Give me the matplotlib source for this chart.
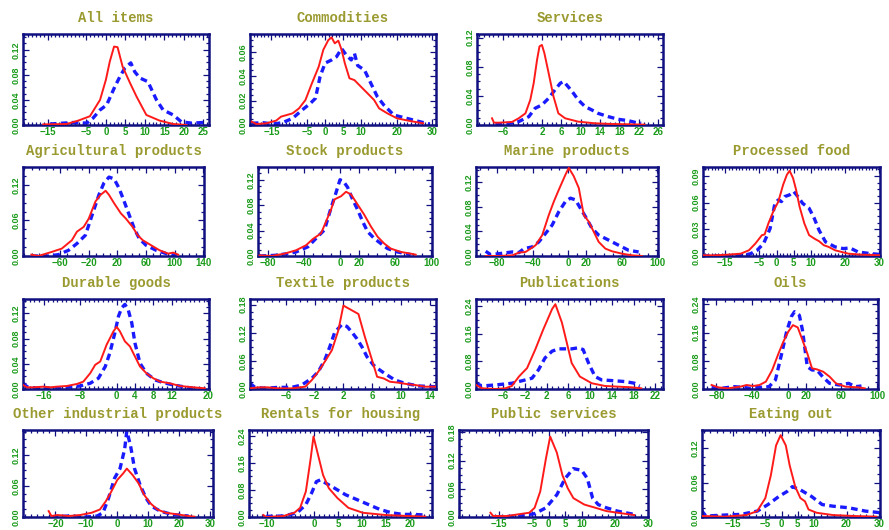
import matplotlib
matplotlib.use("Agg")
import matplotlib.pyplot as plt
from matplotlib.ticker import FixedLocator, MultipleLocator, FixedFormatter

# ---------------- data ----------------
titles = ["All items", "Commodities", "Services",
          "Agricultural products", "Stock products", "Marine products", "Processed food",
          "Durable goods", "Textile products", "Publications", "Oils",
          "Other industrial products", "Rentals for housing", "Public services", "Eating out"]

all_items_red_x = [-16.1, -10.1, -7.1, -4.1, -1.5, 0.0, 1.0, 2.1, 3.0, 4.3, 6.2, 7.9, 10.4, 13.8, 17.3, 20.7]
all_items_red_y = [0.001, 0.0016, 0.007, 0.014, 0.040, 0.072, 0.101, 0.125, 0.124, 0.093, 0.067, 0.045, 0.016, 0.007, 0.0016, 0.0]
all_items_blue_x = [-14.4, -8.4, -4.9, -3.3, -1.5, 0.2, 2.3, 3.6, 4.9, 6.4, 7.4, 8.7, 10.8, 13.0, 14.7, 17.3, 19.4, 22.0, 25.0]
all_items_blue_y = [0.0016, 0.004, 0.003, 0.011, 0.024, 0.032, 0.061, 0.077, 0.091, 0.099, 0.085, 0.075, 0.069, 0.040, 0.024, 0.016, 0.005, 0.003, 0.004]

commodities_red_x = [-20.5, -19.2, -16.4, -13.7, -12.3, -9.1, -7.3, -5.5, -3.7, -1.8, -0.5, 0.9, 1.8, 2.7, 3.7, 4.6, 5.5, 6.8, 8.2, 10.0, 11.9, 13.7, 15.1, 17.4, 20.1, 23.7, 27.4]
commodities_red_y = [0.0027, 0.0008, 0.0014, 0.0036, 0.0069, 0.0096, 0.0137, 0.0206, 0.0343, 0.048, 0.062, 0.070, 0.0722, 0.0673, 0.0695, 0.062, 0.051, 0.0385, 0.037, 0.0316, 0.026, 0.0206, 0.0137, 0.0096, 0.0055, 0.0033, 0.0014]
commodities_blue_x = [-20.5, -17.4, -14.6, -11.9, -9.1, -6.4, -4.1, -2.7, -1.4, 0.0, 1.8, 3.2, 4.6, 5.9, 7.3, 8.2, 9.1, 11.0, 12.8, 14.6, 16.4, 19.2, 22.8, 26.5, 29.2]
commodities_blue_y = [0.0014, 0.0019, 0.0008, 0.0019, 0.0055, 0.0124, 0.0179, 0.022, 0.040, 0.051, 0.0536, 0.0563, 0.063, 0.0577, 0.0536, 0.059, 0.049, 0.0453, 0.0343, 0.0233, 0.0165, 0.0082, 0.0055, 0.0027, 0.0008]

services_red_x = [-8.3, -7.9, -6.9, -4.2, -2.8, -1.4, -0.4, 0.3, 1.0, 1.5, 2.0, 2.5, 3.4, 4.4, 5.4, 6.8, 9.5, 13.0, 16.4, 20.5, 23.2]
services_red_y = [0.0092, 0.0032, 0.0032, 0.0041, 0.0092, 0.016, 0.0345, 0.0574, 0.0896, 0.108, 0.110, 0.099, 0.071, 0.039, 0.016, 0.0092, 0.0046, 0.0023, 0.0014, 0.0009, 0.0005]
services_blue_x = [-7.6, -4.8, -2.8, -0.7, 0.6, 2.0, 3.4, 4.7, 5.8, 6.5, 7.5, 8.5, 9.5, 10.9, 12.3, 13.6, 15.7, 17.8, 19.8, 21.5, 22.5]
services_blue_y = [0.0014, 0.0023, 0.0046, 0.0115, 0.023, 0.0276, 0.0368, 0.0483, 0.0574, 0.0597, 0.052, 0.0437, 0.0345, 0.0253, 0.0207, 0.016, 0.0115, 0.0078, 0.006, 0.0032, 0.0023]

agricultural_red_x = [-100.3, -90.8, -72, -57.8, -43.7, -36.6, -27.2, -20.1, -10.7, -3.6, 3.5, 8.2, 15.3, 24.7, 31.8, 41.2, 48.3, 55.4, 67.2, 79, 90.8, 97.8, 104.9]
agricultural_red_y = [0.0023, 0.0, 0.0068, 0.0125, 0.0266, 0.041, 0.049, 0.063, 0.092, 0.103, 0.110, 0.103, 0.089, 0.072, 0.063, 0.049, 0.035, 0.0266, 0.018, 0.0096, 0.004, 0.0057, 0.0023]
agricultural_blue_x = [-100.3, -76.7, -62.5, -48.4, -36.6, -24.8, -15.4, -5.9, 1.1, 8.2, 15.3, 22.4, 29.4, 36.5, 43.6, 50.7, 60.1, 74.2, 88.4, 102.5]
agricultural_blue_y = [0.0, 0.0, 0.0023, 0.0096, 0.021, 0.035, 0.069, 0.103, 0.123, 0.133, 0.130, 0.114, 0.092, 0.069, 0.046, 0.029, 0.018, 0.0096, 0.004, 0.0011]

stock_red_x = [-89.2, -76.3, -61.7, -48.9, -37.9, -30.5, -21.4, -15.9, -10.4, -6.7, 0.6, 6.1, 11.6, 18.9, 26.2, 33.6, 40.9, 48.2, 55.5, 66.5, 77.5, 83]
stock_red_y = [0.001, 0.0, 0.0037, 0.0091, 0.017, 0.0267, 0.0357, 0.0544, 0.073, 0.089, 0.094, 0.101, 0.097, 0.081, 0.065, 0.0464, 0.0304, 0.0197, 0.0117, 0.0064, 0.0037, 0.0021]
stock_blue_x = [-89.2, -72.7, -58, -48.9, -36, -25.1, -17.7, -10.4, -4.9, -0.5, 3.5, 7.9, 13.4, 18.9, 24.4, 29.9, 37.2, 44.5, 51.9, 62.9, 77.5]
stock_blue_y = [0.0, 0.001, 0.0037, 0.0064, 0.0144, 0.0304, 0.041, 0.0757, 0.0997, 0.120, 0.117, 0.108, 0.089, 0.073, 0.0544, 0.0384, 0.0277, 0.0197, 0.0117, 0.0064, 0.0021]

marine_red_x = [-93.1, -78.1, -63.1, -55.7, -48.2, -42.5, -36.9, -29.4, -22, -16.3, -10.7, -3.2, 0.5, 6.1, 11.8, 17.4, 23, 28.6, 34.2, 41.7, 49.2, 60.4, 71.7, 82.9]
marine_red_y = [0.0, 0.0, 0.0011, 0.0055, 0.0066, 0.012, 0.0175, 0.034, 0.0668, 0.0888, 0.108, 0.1326, 0.1436, 0.130, 0.1107, 0.0668, 0.0559, 0.0395, 0.023, 0.012, 0.0077, 0.0038, 0.0011, 0.0]
marine_blue_x = [-93.1, -87.5, -78.1, -63.1, -55.7, -50, -40.7, -33.2, -25.7, -18.2, -10.7, -3.2, 2.4, 8, 13.6, 19.3, 26.7, 34.2, 45.5, 56.7, 67.9, 79.2]
marine_blue_y = [0.0077, 0.0022, 0.0038, 0.0066, 0.0055, 0.012, 0.0148, 0.023, 0.0367, 0.0504, 0.0723, 0.0888, 0.0942, 0.0915, 0.0778, 0.0641, 0.0449, 0.034, 0.0258, 0.0175, 0.0093, 0.0066]

processed_red_x = [-21.6, -18.1, -14.3, -10.5, -8.1, -6.2, -4.3, -3.5, -2.4, -1.0, 0.5, 1.9, 3.0, 3.8, 4.8, 5.7, 6.7, 8.1, 9.5, 11.0, 12.4, 13.8, 15.2, 17.1, 21.0, 24.8, 30.5]
processed_red_y = [0.0008, 0.0008, 0.0015, 0.0026, 0.0064, 0.014, 0.0234, 0.0242, 0.0366, 0.0498, 0.0611, 0.080, 0.0913, 0.0958, 0.0875, 0.0743, 0.0555, 0.0366, 0.0234, 0.0196, 0.0166, 0.0121, 0.0102, 0.0064, 0.0026, 0.0015, 0.0008]
processed_blue_x = [-21.6, -18.1, -13.3, -9.5, -7.6, -5.7, -3.8, -1.9, -0.5, 0.5, 1.4, 2.4, 3.8, 5.0, 6.2, 7.6, 9.5, 11.0, 12.4, 14.3, 17.1, 19.5, 21.4, 23.8, 27.6, 31.0]
processed_blue_y = [0.0, 0.0, 0.0, 0.0008, 0.0026, 0.0064, 0.014, 0.0309, 0.0592, 0.063, 0.0611, 0.0668, 0.0687, 0.0725, 0.0668, 0.0592, 0.0536, 0.0423, 0.029, 0.0158, 0.0102, 0.0083, 0.0091, 0.0045, 0.0026, 0.0015]

durable_red_x = [-20.5, -19.6, -18.2, -16, -14.5, -13.1, -10.9, -8.7, -7.3, -5.8, -4.7, -3.6, -2.2, -0.7, 0.0, 0.7, 1.8, 2.9, 4.0, 5.1, 6.5, 8.0, 9.5, 11.6, 13.8, 16.7, 19.3]
durable_red_y = [0.0064, 0.0027, 0.0027, 0.0037, 0.0027, 0.0037, 0.0048, 0.008, 0.0117, 0.025, 0.0384, 0.0437, 0.0704, 0.0917, 0.0987, 0.0917, 0.0757, 0.0677, 0.0517, 0.0357, 0.025, 0.0171, 0.0117, 0.0091, 0.0048, 0.0027, 0.0011]
durable_blue_x = [-20.5, -19.6, -17.5, -14.5, -10.9, -8.0, -5.8, -4.0, -2.5, -1.5, -0.4, 0.4, 1.1, 1.8, 2.5, 3.3, 4.0, 5.1, 6.5, 8.4, 10.2, 12.4, 14.5, 16.7]
durable_blue_y = [0.0091, 0.0037, 0.0011, 0.0011, 0.0027, 0.0048, 0.0091, 0.0171, 0.0357, 0.0571, 0.0891, 0.1157, 0.129, 0.1344, 0.1264, 0.105, 0.073, 0.041, 0.025, 0.0144, 0.0101, 0.0064, 0.0037, 0.0011]

textile_red_x = [-11, -9.9, -8.5, -7.1, -5.2, -3.3, -2.4, -1.5, -0.6, 0.4, 1.3, 2.0, 4.1, 5.0, 6.0, 6.7, 7.6, 8.5, 9.7, 10.8, 12.0, 13.4, 14.8]
textile_red_y = [0.0014, 0.0035, 0.0035, 0.0014, 0.0014, 0.0049, 0.019, 0.0367, 0.0579, 0.0826, 0.125, 0.178, 0.160, 0.111, 0.0614, 0.0261, 0.0226, 0.0155, 0.0134, 0.0106, 0.0085, 0.0049, 0.0049]
textile_blue_x = [-11, -10.3, -8.9, -7.1, -5.2, -3.8, -2.4, -1.5, -0.6, 0.1, 0.8, 1.8, 2.5, 3.2, 3.9, 4.6, 5.3, 6.2, 7.1, 8.1, 9.2, 10.6, 12.5, 14.8]
textile_blue_y = [0.012, 0.0035, 0.0014, 0.0035, 0.0035, 0.0085, 0.0226, 0.0367, 0.0614, 0.0896, 0.121, 0.1376, 0.1334, 0.121, 0.107, 0.0896, 0.0685, 0.0508, 0.0402, 0.0296, 0.019, 0.012, 0.0064, 0.0049]

publications_red_x = [-11, -9.9, -7.4, -5.6, -4.4, -3.1, -1.6, -0.1, 1.4, 3.0, 3.6, 4.8, 5.7, 6.6, 8.1, 10.3, 12.7, 15.1, 17.6, 19.4]
publications_red_y = [0.0117, 0.002, 0.0, 0.002, 0.0088, 0.036, 0.0605, 0.114, 0.173, 0.231, 0.245, 0.192, 0.134, 0.075, 0.036, 0.0166, 0.0088, 0.0068, 0.0049, 0.002]
publications_blue_x = [-11, -9.9, -7.4, -4.4, -1.9, -0.7, 0.5, 1.7, 3.0, 4.2, 5.4, 6.6, 7.8, 8.7, 9.7, 10.9, 12.1, 13.9, 16.4, 18.2, 19.1]
publications_blue_y = [0.0166, 0.0088, 0.0117, 0.0166, 0.0263, 0.0312, 0.0556, 0.0898, 0.1093, 0.116, 0.116, 0.116, 0.119, 0.114, 0.075, 0.036, 0.0263, 0.0244, 0.0215, 0.0166, 0.0088]

oils_red_x = [-85.4, -78.2, -67.5, -53.2, -46.1, -38.9, -31.8, -24.6, -17.5, -10.4, -5.0, 0.4, 5.7, 11.1, 16.4, 21.8, 27.1, 32.5, 39.6, 46.8, 53.9, 64.6, 78.9, 86.1]
oils_red_y = [0.0113, 0.0047, 0.0019, 0.0066, 0.0113, 0.0085, 0.0113, 0.0208, 0.0538, 0.101, 0.134, 0.162, 0.181, 0.1745, 0.1387, 0.101, 0.0585, 0.0557, 0.049, 0.0349, 0.016, 0.0066, 0.0047, 0.0019]
oils_blue_x = [-85.4, -74.6, -60.4, -49.6, -42.5, -31.8, -21.1, -13.9, -6.8, -1.4, 3.9, 7.5, 12.9, 16.4, 21.8, 27.1, 32.5, 39.6, 46.8, 57.5, 68.2, 75.4, 82.5]
oils_blue_y = [0.0047, 0.0019, 0.0066, 0.0047, 0.0019, 0.0047, 0.0066, 0.0255, 0.101, 0.162, 0.205, 0.219, 0.209, 0.167, 0.0632, 0.0538, 0.0538, 0.033, 0.016, 0.0113, 0.016, 0.0066, 0.0085]

other_ind_red_x = [-22.2, -21.3, -19.4, -15.7, -12, -8.3, -5.6, -3.7, -1.9, 0.0, 1.9, 3.1, 5.0, 6.9, 8.7, 10.6, 13.0, 15.7, 19.4, 23.1, 25.0]
other_ind_red_y = [0.0114, 0.0019, 0.0038, 0.0019, 0.0038, 0.0082, 0.0145, 0.0303, 0.0493, 0.0714, 0.084, 0.0935, 0.0809, 0.0651, 0.043, 0.0272, 0.0145, 0.0082, 0.0051, 0.0019, 0.0006]
other_ind_blue_x = [-21.3, -15.7, -10.2, -6.5, -4.6, -2.8, -0.9, 0.9, 2.4, 3.1, 4.3, 5.6, 7.4, 9.3, 11.1, 13.9, 17.6, 23.1]
other_ind_blue_y = [0.0, 0.0019, 0.0, 0.0019, 0.0082, 0.0366, 0.0745, 0.0935, 0.131, 0.166, 0.138, 0.0935, 0.0619, 0.0366, 0.0208, 0.0114, 0.0051, 0.0019]

rentals_red_x = [-10.7, -10.1, -6.5, -4.2, -3.0, -1.8, -0.8, -0.2, 0.6, 1.8, 3.0, 4.8, 7.1, 10.1, 14.9, 19.6, 23.2]
rentals_red_y = [0.0058, 0.0, 0.0029, 0.0126, 0.0271, 0.0755, 0.172, 0.238, 0.192, 0.124, 0.0852, 0.0561, 0.0271, 0.0126, 0.0058, 0.0029, 0.001]
rentals_blue_x = [-10.1, -6.5, -3.6, -1.8, -0.6, 0.4, 1.2, 2.4, 4.2, 6.5, 8.9, 11.3, 13.7, 16.1, 18.5, 20.8, 23.2]
rentals_blue_y = [0.0019, 0.0029, 0.0126, 0.0368, 0.0707, 0.1045, 0.1094, 0.0997, 0.0852, 0.0658, 0.0513, 0.0368, 0.0223, 0.0126, 0.0077, 0.0077, 0.0058]

public_red_x = [-17.5, -16.7, -12.5, -9.2, -5.8, -4.2, -2.5, -0.8, 0.5, 2.5, 4.2, 5.8, 7.5, 10.8, 14.2, 17.5, 20.8, 25.8]
public_red_y = [0.0091, 0.0021, 0.0021, 0.0056, 0.0091, 0.0195, 0.0542, 0.1236, 0.171, 0.137, 0.0887, 0.0612, 0.0401, 0.0264, 0.0195, 0.0125, 0.0091, 0.0042]
public_blue_x = [-15.8, -9.2, -4.2, -0.8, 2.5, 5.0, 7.5, 10.0, 11.7, 13.3, 15.0, 17.5, 20.8, 25.8]
public_blue_y = [0.0, 0.0021, 0.007, 0.0195, 0.0472, 0.082, 0.1029, 0.0993, 0.082, 0.0401, 0.0264, 0.0195, 0.0125, 0.0056]

eating_red_x = [-24.2, -17.5, -10.8, -7.5, -5.0, -3.3, -1.7, -0.3, 1.3, 2.5, 4.2, 5.8, 7.2, 8.3, 10.8, 15.8, 22.5, 29.2]
eating_red_y = [0.0017, 0.0006, 0.0034, 0.0103, 0.033, 0.073, 0.125, 0.143, 0.125, 0.090, 0.053, 0.033, 0.0274, 0.0131, 0.0074, 0.0034, 0.0017, 0.0006]
eating_blue_x = [-24.5, -23.3, -17.5, -12.5, -7.5, -4.2, -0.8, 1.7, 3.3, 5.8, 9.2, 12.5, 15.8, 20.8, 25.8, 30.5]
eating_blue_y = [0.0103, 0.0017, 0.0034, 0.0046, 0.0103, 0.0217, 0.036, 0.0446, 0.053, 0.0474, 0.036, 0.0217, 0.0189, 0.016, 0.0103, 0.0074]

# tick values shown on each panel
xticks = [[-15, -5, 0, 5, 10, 15, 20, 25], [-15, -5, 0, 5, 10, 20, 30], [-6, 2, 6, 10, 14, 18, 22, 26],
          [-60, -20, 20, 60, 100, 140], [-80, -40, 0, 20, 60, 100], [-80, -40, 0, 20, 60, 100], [-15, -5, 0, 5, 10, 20, 30],
          [-16, -8, 0, 4, 8, 12, 20], [-6, -2, 2, 6, 10, 14], [-6, -2, 2, 6, 10, 14, 18, 22], [-80, -40, 0, 20, 60, 100],
          [-20, -10, 0, 10, 20, 30], [-10, 0, 5, 10, 15, 20, 25], [-15, -5, 0, 5, 10, 20, 30], [-15, -5, 0, 5, 10, 20, 30]]
yticks = [[0.0, 0.04, 0.08, 0.12], [0.0, 0.02, 0.04, 0.06], [0.0, 0.04, 0.08, 0.12],
          [0.0, 0.06, 0.12], [0.0, 0.04, 0.08, 0.12], [0.0, 0.04, 0.08, 0.12], [0.0, 0.03, 0.06, 0.09],
          [0.0, 0.04, 0.08, 0.12], [0.0, 0.06, 0.12, 0.18], [0.0, 0.08, 0.16, 0.24], [0.0, 0.08, 0.16, 0.24],
          [0.0, 0.06, 0.12], [0.0, 0.08, 0.16, 0.24], [0.0, 0.06, 0.12, 0.18], [0.0, 0.06, 0.12]]

red_series = [(all_items_red_x, all_items_red_y), (commodities_red_x, commodities_red_y), (services_red_x, services_red_y),
              (agricultural_red_x, agricultural_red_y), (stock_red_x, stock_red_y), (marine_red_x, marine_red_y),
              (processed_red_x, processed_red_y), (durable_red_x, durable_red_y), (textile_red_x, textile_red_y),
              (publications_red_x, publications_red_y), (oils_red_x, oils_red_y), (other_ind_red_x, other_ind_red_y),
              (rentals_red_x, rentals_red_y), (public_red_x, public_red_y), (eating_red_x, eating_red_y)]
blue_series = [(all_items_blue_x, all_items_blue_y), (commodities_blue_x, commodities_blue_y), (services_blue_x, services_blue_y),
               (agricultural_blue_x, agricultural_blue_y), (stock_blue_x, stock_blue_y), (marine_blue_x, marine_blue_y),
               (processed_blue_x, processed_blue_y), (durable_blue_x, durable_blue_y), (textile_blue_x, textile_blue_y),
               (publications_blue_x, publications_blue_y), (oils_blue_x, oils_blue_y), (other_ind_blue_x, other_ind_blue_y),
               (rentals_blue_x, rentals_blue_y), (public_blue_x, public_blue_y), (eating_blue_x, eating_blue_y)]

# ---------------- layout / style ----------------
W, H = 889, 530
# (left, top, right, bottom) in pixels
boxes = [(23, 34, 209, 125), (250, 34, 436, 125), (477, 34, 663, 125),
         (23, 167, 204, 256), (258, 167, 432, 256), (476, 167, 658, 256), (703, 167, 880, 256),
         (23, 299, 209, 389), (250, 299, 436, 389), (476, 299, 663, 389), (703, 299, 878, 389),
         (23, 430, 213, 517), (249, 430, 432, 517), (459, 430, 648, 517), (702, 430, 880, 517)]
xlims = [(-21.3, 26.5), (-21, 31), (-11.4, 27), (-112, 141), (-91, 101), (-104, 101), (-21.5, 30.2),
         (-20.5, 20.2), (-11, 14.9), (-11, 23.4), (-95, 101), (-30.5, 31), (-13.7, 24.6), (-27, 30), (-24.5, 30.3)]
ylims = [(0, 0.145), (0, 0.075), (0, 0.125), (0, 0.15), (0, 0.14), (0, 0.145), (0, 0.10),
         (0, 0.143), (0, 0.192), (0, 0.26), (0, 0.255), (0, 0.168), (0, 0.257), (0, 0.185), (0, 0.152)]
xminor = [1, 1, 1, 10, 10, 10, 1, 1, 1, 1, 10, 2, 1, 2, 2]

TITLE_COLOR = '#9a9a30'
TICK_COLOR = '#1c9c1c'
FRAME_COLOR = '#101080'
RED = '#ff1a1a'
BLUE = '#1a1aff'

fig = plt.figure(figsize=(W / 100, H / 100), dpi=100)
fig.patch.set_facecolor('white')


def fmt_x(v):
    s = f"{v:g}"
    return s.replace('-', '\u2212')


for i in range(len(titles)):
    l, t, r, b = boxes[i]
    ax = fig.add_axes([l / W, 1 - b / H, (r - l) / W, (b - t) / H])
    rx, ry = red_series[i]
    bx, by = blue_series[i]
    ax.plot(rx, ry, color=RED, lw=1.4, solid_joinstyle='round', zorder=3)
    ax.plot(bx, by, color=BLUE, lw=2.4, ls=(0, (2.0, 1.3)), zorder=2)
    ax.set_xlim(*xlims[i])
    ax.set_ylim(*ylims[i])
    ax.xaxis.set_major_locator(FixedLocator(xticks[i]))
    ax.xaxis.set_major_formatter(FixedFormatter([fmt_x(v) for v in xticks[i]]))
    ax.xaxis.set_minor_locator(MultipleLocator(xminor[i]))
    ax.yaxis.set_major_locator(FixedLocator(yticks[i]))
    ax.yaxis.set_major_formatter(FixedFormatter([f"{v:.2f}" for v in yticks[i]]))
    ystep = yticks[i][1] - yticks[i][0]
    ax.yaxis.set_minor_locator(MultipleLocator(ystep / 4))
    for sp in ax.spines.values():
        sp.set_color(FRAME_COLOR)
        sp.set_linewidth(1.8)
    ax.tick_params(which='both', direction='in', top=True, right=True, color=FRAME_COLOR, width=0.9)
    ax.tick_params(which='major', length=4)
    ax.tick_params(which='minor', length=2)
    ax.tick_params(axis='x', which='major', pad=1.5, labelsize=7, labelcolor=TICK_COLOR)
    ax.tick_params(axis='y', which='major', pad=2, labelsize=6.5, labelcolor=TICK_COLOR, labelrotation=90)
    for lab in ax.get_xticklabels() + ax.get_yticklabels():
        lab.set_fontfamily('Liberation Sans')
        lab.set_fontweight('bold')
    for lab in ax.get_yticklabels():
        lab.set_verticalalignment('center')
    fig.text((l + r) / 2 / W, 1 - (t - 16) / H, titles[i], ha='center', va='center',
             color=TITLE_COLOR, fontsize=10, fontfamily='Liberation Mono', fontweight='bold')

fig.savefig('out.png', dpi=100, facecolor='white')
